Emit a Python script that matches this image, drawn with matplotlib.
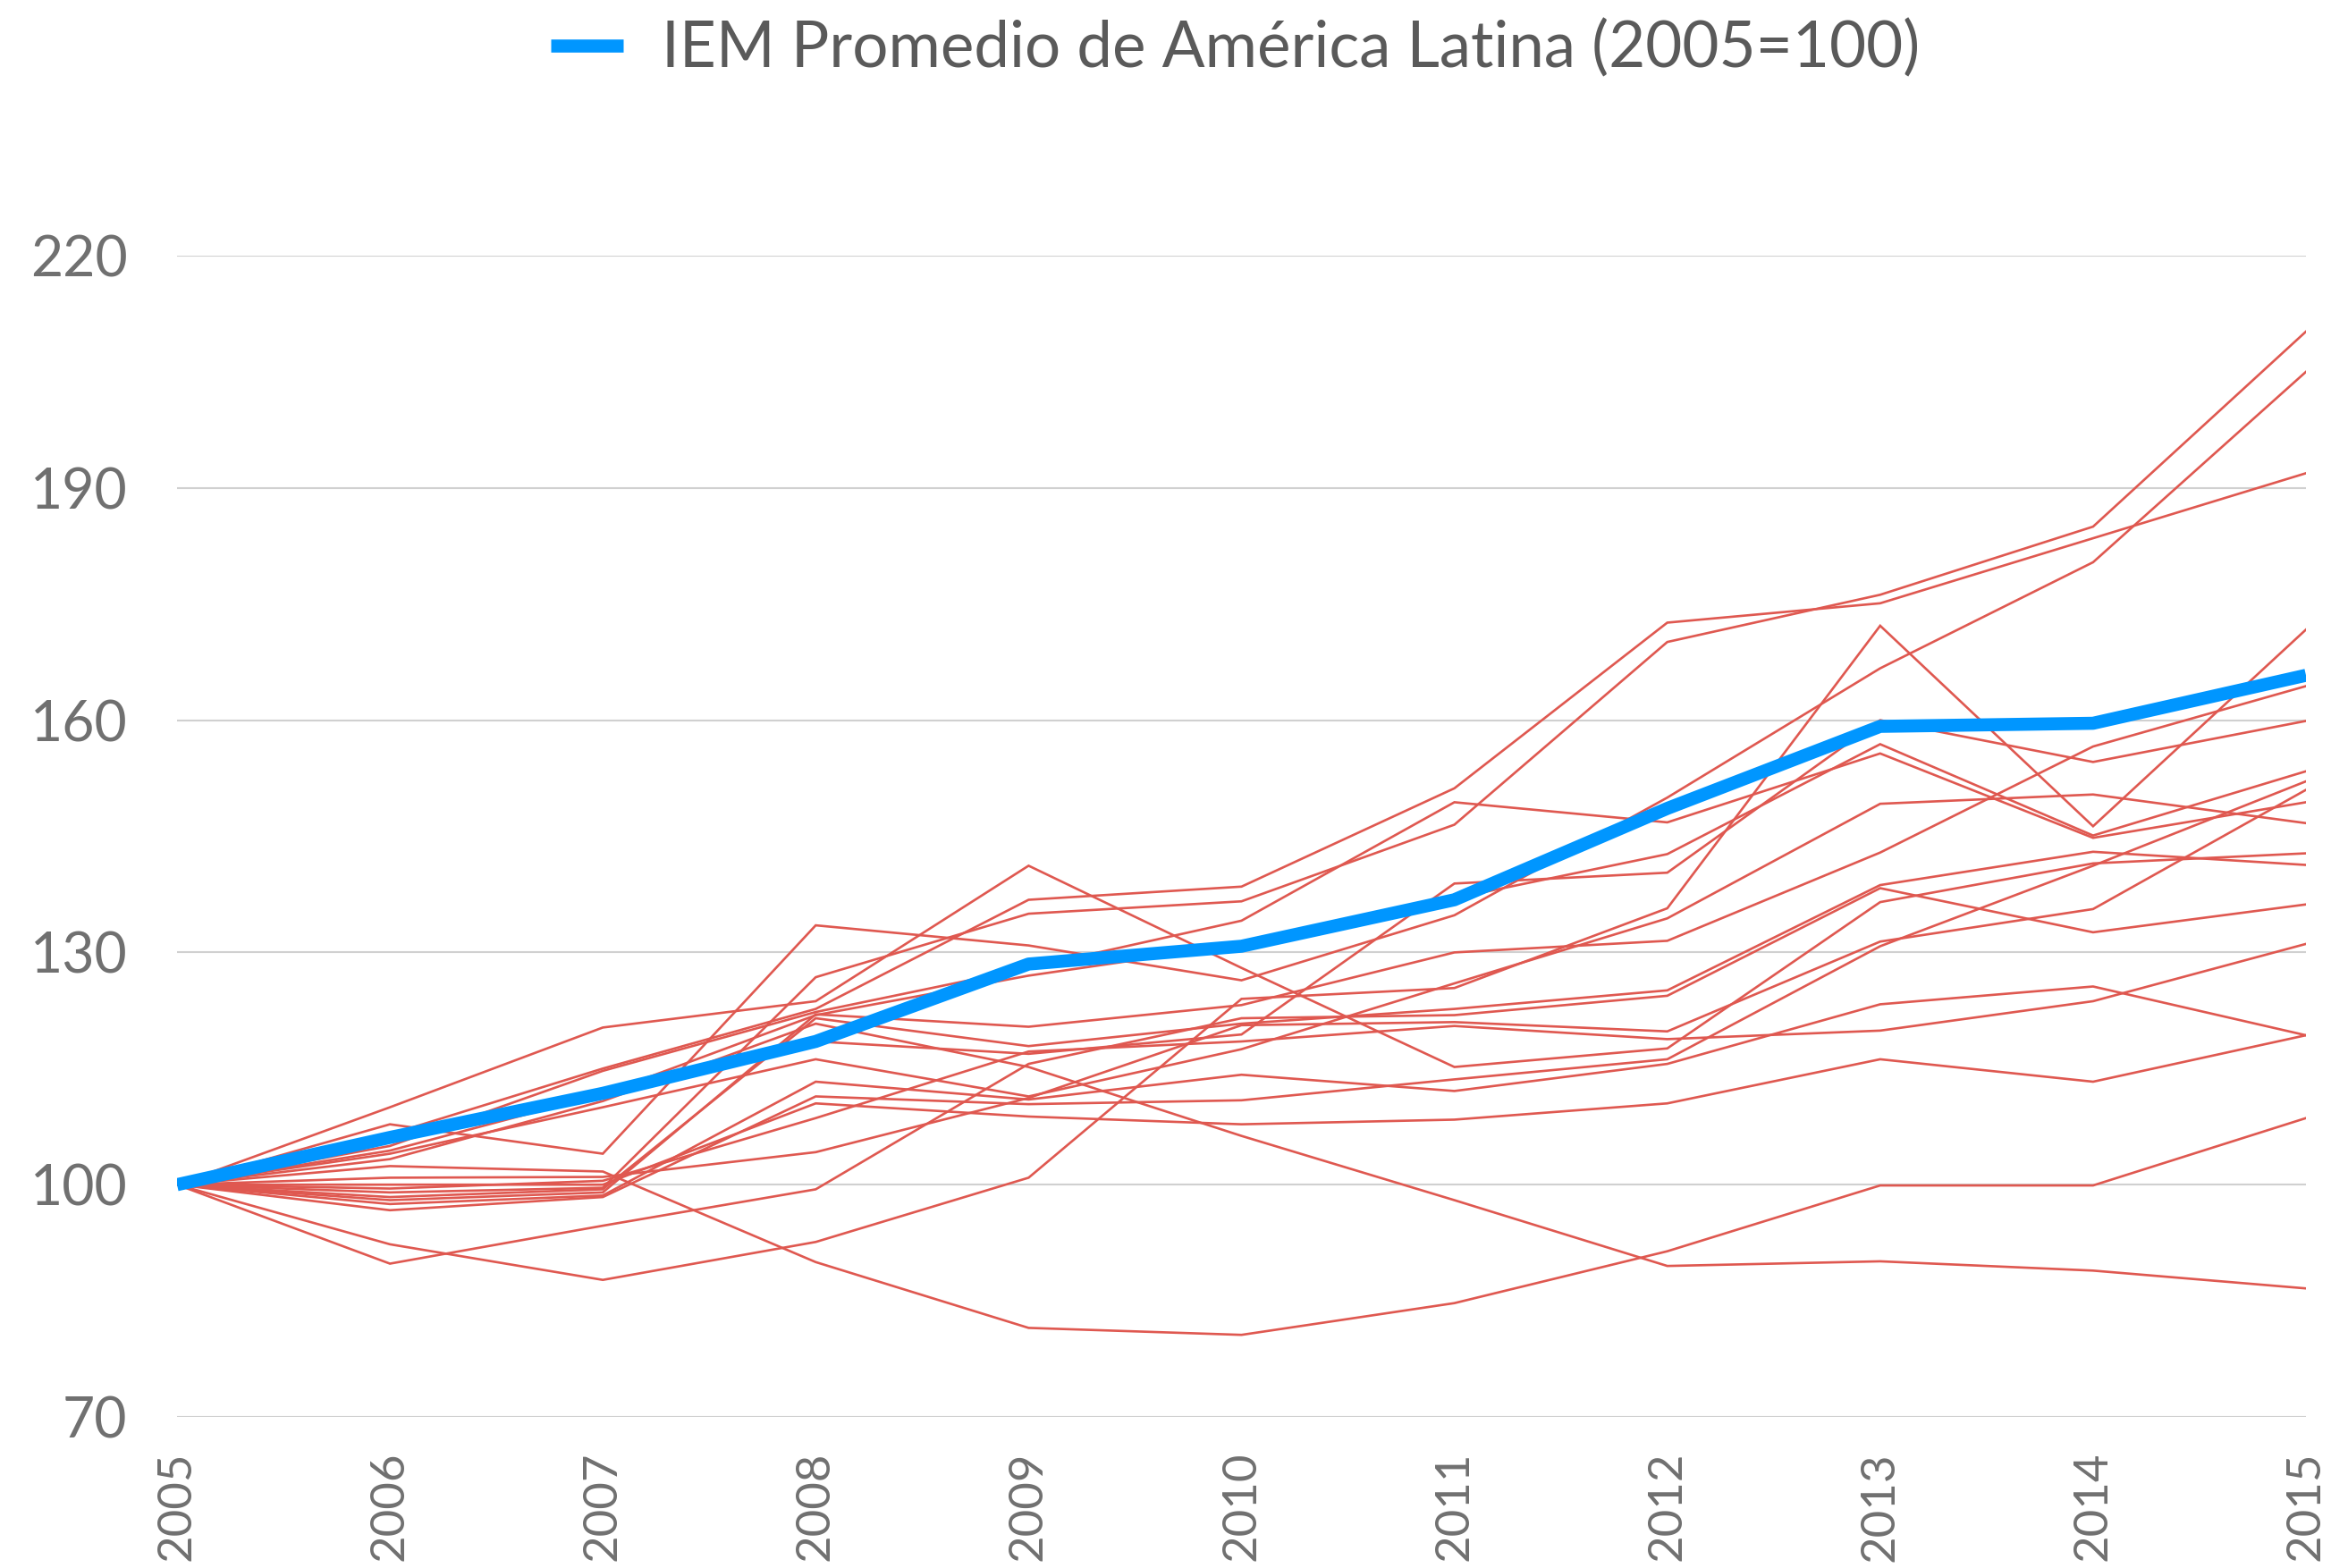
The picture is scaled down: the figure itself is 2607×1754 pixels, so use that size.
import matplotlib
matplotlib.use("Agg")
import matplotlib.pyplot as plt
from matplotlib.lines import Line2D

# --- data -------------------------------------------------------------
years = [2005, 2006, 2007, 2008, 2009, 2010, 2011, 2012, 2013, 2014, 2015]
y_ticks = [70, 100, 130, 160, 190, 220]
legend_label = "IEM Promedio de América Latina (2005=100)"

promedio_al = [100, 106.1, 111.8, 118.5, 128.5, 130.8, 136.8, 148.6, 159.2, 159.6, 165.8]

pais_01 = [100, 110.0, 120.3, 123.7, 141.2, 128.0, 115.2, 117.6, 136.5, 141.5, 142.8]
pais_02 = [100, 106.5, 115.0, 122.7, 136.8, 138.5, 151.2, 172.6, 175.1, 183.5, 191.9]
pais_03 = [100, 99.0, 99.6, 126.8, 135.0, 136.6, 146.5, 170.1, 176.2, 185.0, 210.2]
pais_04 = [100, 107.8, 104.0, 133.5, 130.9, 126.4, 134.8, 150.0, 166.7, 180.4, 205.0]
pais_05 = [100, 105.0, 114.7, 122.3, 128.0, 134.1, 149.4, 146.8, 155.7, 144.8, 149.4]
pais_06 = [100, 104.4, 111.7, 121.9, 127.0, 131.0, 137.0, 142.7, 156.9, 145.1, 153.4]
pais_07 = [100, 98.0, 99.0, 122.0, 120.4, 123.2, 130.0, 131.5, 142.9, 156.6, 164.4]
pais_08 = [100, 98.4, 99.4, 121.5, 117.9, 120.8, 122.7, 125.1, 138.7, 143.0, 141.3]
pais_09 = [100, 103.3, 110.8, 120.8, 115.2, 106.3, 98.0, 89.5, 90.1, 88.9, 86.6]
pais_10 = [100, 105.5, 112.0, 118.5, 116.9, 119.4, 138.9, 140.3, 160.0, 154.6, 159.9]
pais_11 = [100, 104.0, 110.0, 116.2, 111.4, 117.5, 126.0, 134.4, 149.2, 150.4, 146.7]
pais_12 = [100, 97.5, 98.6, 113.3, 111.0, 114.2, 112.1, 115.6, 123.3, 125.6, 119.3]
pais_13 = [100, 96.7, 98.4, 111.4, 110.4, 110.9, 113.6, 116.2, 130.8, 141.2, 152.1]
pais_14 = [100, 100.0, 100.0, 110.5, 108.8, 107.8, 108.4, 110.5, 116.2, 113.3, 119.3]
pais_15 = [100, 92.3, 87.7, 92.6, 100.9, 124.0, 125.4, 135.7, 172.2, 146.3, 171.7]
pais_16 = [100, 102.4, 101.7, 90.0, 81.5, 80.6, 84.7, 91.4, 99.9, 99.9, 108.6]
pais_17 = [100, 89.8, 94.7, 99.4, 115.6, 121.5, 121.9, 124.4, 138.3, 132.6, 136.2]
pais_18 = [100, 100.9, 101.0, 104.2, 111.2, 120.6, 121.0, 119.8, 131.4, 135.6, 151.0]
pais_19 = [100, 99.5, 100.5, 108.6, 117.2, 118.5, 120.5, 118.8, 119.9, 123.7, 131.1]

paises = [pais_01, pais_02, pais_03, pais_04, pais_05, pais_06, pais_07,
          pais_08, pais_09, pais_10, pais_11, pais_12, pais_13, pais_14,
          pais_15, pais_16, pais_17, pais_18, pais_19]

# --- style ------------------------------------------------------------
plt.rcParams["font.family"] = ["Lato", "DejaVu Sans"]
RED = "#DF5850"
BLUE = "#0096FF"
GRID = "#D0D0D0"
TICK_TXT = "#707070"
LEGEND_TXT = "#5A5A5A"

W, H = 2607, 1754
fig = plt.figure(figsize=(W / 100, H / 100), dpi=100)
left, right = 198 / W, 2579 / W
bottom, top = 1 - 1585 / H, 1 - 286 / H
ax = fig.add_axes([left, bottom, right - left, top - bottom])

for serie in paises:
    ax.plot(years, serie, color=RED, lw=1.9, zorder=2, solid_joinstyle="miter")

ax.plot(years, promedio_al, color=BLUE, lw=10.5, zorder=3,
        solid_joinstyle="round", solid_capstyle="butt")

ax.set_xlim(2005, 2015)
ax.set_ylim(70, 220)
ax.set_yticks(y_ticks)
ax.set_xticks(years)
ax.set_xticklabels([str(y) for y in years], rotation=90)

ax.grid(axis="y", color=GRID, lw=1.5, zorder=0)
ax.set_axisbelow(True)
for s in ax.spines.values():
    s.set_visible(False)
ax.tick_params(axis="y", length=0, labelsize=45, labelcolor=TICK_TXT, pad=40)
ax.tick_params(axis="x", length=0, labelsize=38, labelcolor=TICK_TXT, pad=28)
for lab in ax.get_xticklabels():
    lab.set_va("top")

handle = Line2D([], [], color=BLUE, lw=10.5, solid_capstyle="butt")
leg = ax.legend([handle], [legend_label], loc="center",
                bbox_to_anchor=(0.497, 1.178), frameon=False,
                fontsize=51, handlelength=1.15, handletextpad=0.6,
                borderaxespad=0)
for t in leg.get_texts():
    t.set_color(LEGEND_TXT)

fig.savefig("out.png", dpi=100, facecolor="white")
